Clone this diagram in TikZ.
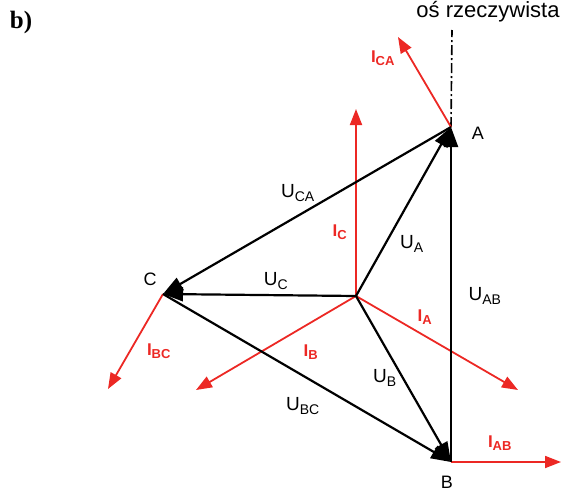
\documentclass[tikz,border=0pt]{standalone}
\usepackage{fontspec}
\setmainfont{Liberation Sans}
\newfontfamily\serifb{Liberation Serif}
\usetikzlibrary{arrows.meta}
\definecolor{ired}{RGB}{236,40,36}
\tikzset{
  uvec/.style={line width=2.2pt, black, -{Triangle[length=20pt,width=14pt]}},
  ivec/.style={line width=1.8pt, ired, -{Triangle[length=16pt,width=12pt]}},
  ulab/.style={font=\fontsize{19}{19}\selectfont, inner sep=0pt},
  plab/.style={font=\fontsize{18}{18}\selectfont, inner sep=0pt},
  ilab/.style={font=\fontsize{17}{17}\selectfont\bfseries, text=ired, inner sep=0pt},
  axis/.style={line width=1.6pt, black, dash pattern=on 10pt off 3pt on 2pt off 3pt}
}
\newcommand{\Us}[1]{U\textsubscript{\fontsize{14}{14}\selectfont #1}}
\newcommand{\Is}[1]{I\textsubscript{\fontsize{13}{13}\selectfont\bfseries #1}}
\begin{document}
\begin{tikzpicture}[x=1pt,y=-1pt]
\useasboundingbox (0,0) rectangle (566,493);
\coordinate (A) at (451,127);
\coordinate (B) at (451,462);
\coordinate (C) at (163,294);
\coordinate (N) at (356,296);
\coordinate (axtop) at (452,30);
\coordinate (tCA) at (398,37);
\coordinate (tC) at (356,109);
\coordinate (tA) at (518,390);
\coordinate (tB) at (196,390);
\coordinate (tBC) at (108,389);
\coordinate (tAB) at (561,462);
% axis
\draw[axis] (A) -- (axtop);
% currents
\draw[ivec] (A) -- (tCA);
\draw[ivec] (N) -- (tC);
\draw[ivec] (N) -- (tA);
\draw[ivec] (N) -- (tB);
\draw[ivec] (C) -- (tBC);
\draw[ivec] (B) -- (tAB);
% voltages
\draw[uvec] (B) -- (A);
\draw[uvec] (N) -- (A);
\draw[uvec] (A) -- (C);
\draw[uvec] (N) -- (C);
\draw[uvec] (C) -- (B);
\draw[uvec] (N) -- (B);
% labels
\node[font=\serifb\fontsize{25}{25}\selectfont\bfseries, inner sep=0pt] (lb) at (21,22) {b)};
\node[font=\fontsize{22}{22}\selectfont, inner sep=0pt] (lax) at (488,12) {oś rzeczywista};
\node[plab] (lA) at (478,133) {A};
\node[plab] (lB) at (447,482) {B};
\node[plab] (lC) at (150,279) {C};
\node[ulab] (lUCA) at (298,193) {\Us{CA}};
\node[ulab] (lUA) at (412,244) {\Us{A}};
\node[ulab] (lUC) at (276,281) {\Us{C}};
\node[ulab] (lUAB) at (485,296) {\Us{AB}};
\node[ulab] (lUB) at (385,378) {\Us{B}};
\node[ulab] (lUBC) at (303,406) {\Us{BC}};
\node[ilab] (lIC) at (340,232) {\Is{C}};
\node[ilab] (lIA) at (425,317) {\Is{A}};
\node[ilab] (lIB) at (311,352) {\Is{B}};
\node[ilab] (lIBC) at (159,351) {\Is{BC}};
\node[ilab] (lIAB) at (500,443) {\Is{AB}};
\node[ilab] (lICA) at (383,58) {\Is{CA}};
\end{tikzpicture}
\end{document}
